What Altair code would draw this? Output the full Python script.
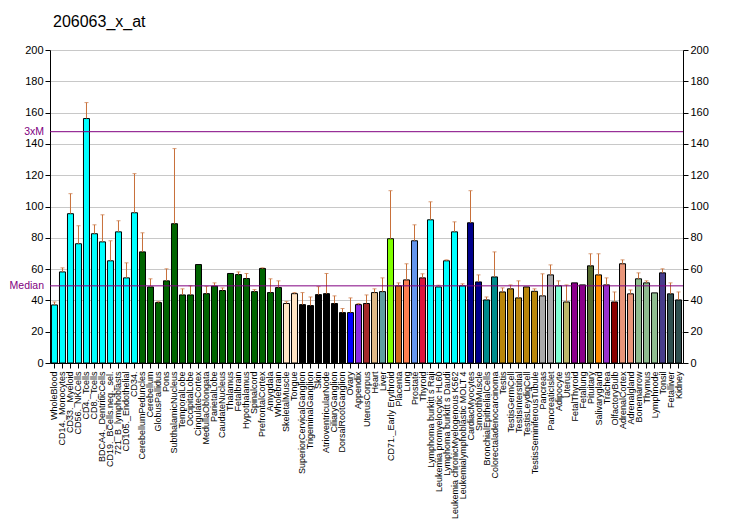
import altair as alt
import pandas as pd

chart_title = "206063_x_at"

labels = [
    "WholeBlood", "CD14._Monocytes", "CD33._Myeloid", "CD56._NKCells", "CD4._Tcells",
    "CD8._Tcells", "BDCA4._DentriticCells", "CD19._BCells.neg._sel.", "721_B_lymphoblasts",
    "CD105._Endothelial", "CD34.", "CerebellumPeduncles", "Cerebellum", "GlobusPallidus",
    "Pons", "SubthalamicNucleus", "TemporalLobe", "OccipitalLobe", "CingulateCortex",
    "MedullaOblongata", "ParietalLobe", "CaudateNucleus", "Thalamus", "Fetalbrain",
    "Hypothalamus", "Spinalcord", "PrefrontalCortex", "Amygdala", "Wholebrain",
    "SkeletalMuscle", "Tongue", "SuperiorCervicalGanglion", "TrigeminalGanglion", "Skin",
    "AtrioventricularNode", "CiliaryGanglion", "DorsalRootGanglion", "Ovary", "Appendix",
    "UterusCorpus", "Heart", "Liver", "CD71._Early Erythroid", "Placenta", "Lung",
    "Prostate", "Thyroid", "Lymphoma burkitt s Raji", "Leukemia promyelocytic HL60",
    "Lymphoma burkitt s Daudi", "Leukemia chronicMyelogenous K562",
    "Leukemialymphoblastic MOLT 4", "CardiacMyocytes", "SmoothMuscle",
    "BronchialEpithelialCells", "Colorectaladenocarcinoma", "Testis", "TestisGermCell",
    "TestisInterstitial", "TestisLeydigCell", "TestisSeminiferousTubule", "Pancreas",
    "PancreaticIslet", "Adipocyte", "Uterus", "FetalThyroid", "Fetallung", "Pituitary",
    "Salivarygland", "Trachea", "OlfactoryBulb", "AdrenalCortex", "Adrenalgland",
    "Bonemarrow", "Thymus", "Lymphnode", "Tonsil", "Fetalliver", "Kidney",
]

values = [
    37.1, 58.2, 95.4, 76.2, 156.2, 82.6, 77.4, 65.3, 83.8, 54.4, 96.0,
    71.0, 48.6, 38.6, 52.5, 89.0, 43.5, 43.5, 62.9, 44.3, 49.1, 46.3, 57.2, 56.5,
    54.0, 45.6, 60.4, 45.0, 48.2,
    38.0, 44.3, 37.3, 36.7, 43.7, 44.3, 38.0, 32.2, 32.2, 37.3, 38.0, 45.0, 45.6,
    79.4, 49.3, 53.1, 78.1, 54.4, 91.5, 48.6, 65.3, 83.8, 49.3, 89.6, 51.8,
    40.3, 55.0, 45.4, 47.4, 41.6, 48.6, 45.8, 42.9, 56.3, 49.3, 39.0, 51.2, 49.9,
    62.1, 56.3, 49.9, 39.0, 63.4, 44.2, 53.8, 51.2, 44.8, 57.6, 44.2, 40.3,
]

err_tops = [
    39.0, 60.8, 108.2, 87.7, 166.4, 88.3, 94.7, 78.1, 90.9, 64.0, 121.0,
    83.2, 53.8, 39.2, 60.2, 137.0, 47.4, 49.3, 62.9, 49.0, 51.2, 48.0, 57.2, 58.2,
    57.2, 46.9, 60.8, 53.8, 52.5,
    39.2, 45.0, 45.0, 42.2, 48.8, 57.2, 42.9, 34.8, 41.6, 38.0, 43.5, 47.4, 54.4,
    110.1, 51.2, 63.4, 88.3, 57.0, 103.0, 49.7, 65.9, 90.2, 50.6, 110.1, 56.3,
    42.2, 71.0, 48.0, 49.9, 52.5, 48.6, 47.4, 57.0, 62.7, 52.5, 49.9, 51.2, 49.9,
    69.8, 69.8, 54.4, 45.4, 65.9, 46.7, 57.6, 52.5, 44.8, 60.2, 51.2, 45.4,
]

colors = (
    ["#00FFFF"] * 11
    + ["#006400"] * 18
    + ["#FFE4C4"] * 2
    + ["#000000"] * 6
    + ["#0000FF", "#8A2BE2", "#A52A2A", "#DEB887", "#5F9EA0", "#7FFF00",
       "#D2691E", "#FF7F50", "#6495ED", "#DC143C"]
    + ["#00FFFF"] * 5
    + ["#00008B"] * 2
    + ["#008B8B"] * 2
    + ["#B8860B"] * 5
    + ["#A9A9A9"] * 2
    + ["#7FFFD4", "#BDB76B", "#8B008B", "#8B008B", "#556B2F", "#FF8C00",
       "#9932CC", "#8B0000", "#E9967A", "#E9967A"]
    + ["#8FBC8F"] * 3
    + ["#483D8B", "#2F4F4F", "#2F4F4F"]
)

ref_names = ["3xM", "Median"]
ref_values = [147.8, 49.3]

FONT = "Liberation Sans"
ERR_COLOR = "#C8703A"
REF_COLOR = "#800080"

df = pd.DataFrame({"tissue": labels, "value": values, "err": err_tops, "color": colors})
err_df = df[df["err"] > df["value"] + 0.3]
ref_df = pd.DataFrame({"name": ref_names, "value": ref_values})
title_df = pd.DataFrame({"t": [chart_title]})

x_enc = alt.X(
    "tissue:N",
    sort=labels,
    scale=alt.Scale(paddingInner=0.25, paddingOuter=0.185),
    axis=alt.Axis(
        title=None, labelAngle=-90, labelFontSize=9, labelFont=FONT,
        labelColor="black", tickSize=5, tickColor="black", domainColor="black",
        labelPadding=3, labelOverlap=False, labelLimit=250,
    ),
)

yscale = alt.Scale(domain=[0, 200], nice=False, zero=True)
tick_vals = list(range(0, 201, 20))

left_axis = alt.Axis(
    orient="left", values=tick_vals, grid=True, gridColor="#C8C8C8", title=None,
    tickSize=5, tickColor="black", domainColor="black", labelFontSize=11,
    labelFont=FONT, labelColor="black", labelPadding=2,
)
right_axis = alt.Axis(
    orient="right", values=tick_vals, grid=False, title=None,
    tickSize=5, tickColor="black", domainColor="black", labelFontSize=11,
    labelFont=FONT, labelColor="black", labelPadding=2,
)

bars = alt.Chart(df).mark_bar(stroke="black", strokeWidth=1).encode(
    x=x_enc,
    y=alt.Y("value:Q", scale=yscale, axis=left_axis),
    color=alt.Color("color:N", scale=None),
)

err_rules = alt.Chart(err_df).mark_rule(color=ERR_COLOR, strokeWidth=1).encode(
    x=x_enc,
    y=alt.Y("value:Q", scale=yscale, axis=left_axis),
    y2="err:Q",
)

err_caps = alt.Chart(err_df).mark_tick(color=ERR_COLOR, thickness=1, size=4).encode(
    x=x_enc,
    y=alt.Y("err:Q", scale=yscale, axis=left_axis),
)

ref_lines = alt.Chart(ref_df).mark_rule(color=REF_COLOR, strokeWidth=1).encode(
    y=alt.Y("value:Q", scale=yscale, axis=right_axis),
)

ref_labels = alt.Chart(ref_df).mark_text(
    align="right", baseline="middle", fontSize=10.5, font=FONT, color=REF_COLOR
).encode(
    x=alt.value(-6),
    y=alt.Y("value:Q", scale=yscale, axis=right_axis),
    text="name:N",
)

title_text = alt.Chart(title_df).mark_text(
    align="left", baseline="alphabetic", fontSize=16, font=FONT, color="black"
).encode(x=alt.value(3), y=alt.value(-23), text="t:N")

left_layer = alt.layer(bars, err_rules, err_caps)
right_layer = alt.layer(ref_lines, ref_labels, title_text)

chart = (
    alt.layer(left_layer, right_layer)
    .resolve_axis(y="independent")
    .properties(
        width=633,
        height=313,
        autosize=alt.AutoSizeParams(type="none"),
        padding={"left": 42, "top": 42, "right": 41, "bottom": 159},
    )
    .configure_view(stroke=None)
    .configure_axis(labelFont=FONT)
)

chart.save("out.html", embed_options={"renderer": "svg", "actions": False})
